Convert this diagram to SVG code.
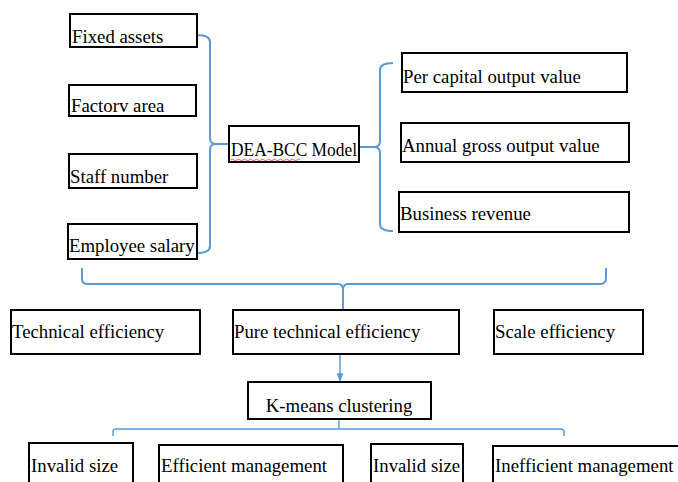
<svg xmlns="http://www.w3.org/2000/svg" width="678" height="482" viewBox="0 0 678 482">
<defs>
<style>
.box{fill:#fff;stroke:#000;stroke-width:2}
.t{font-family:'Liberation Serif','Times New Roman',Times,Tinos,'Noto Serif','DejaVu Serif',serif;font-size:18.8px;fill:#000}
.c{fill:none;stroke:#5B9BD5;stroke-width:2;stroke-linejoin:round}
.c2{fill:none;stroke:#5B9BD5;stroke-width:1.5}
</style>
<marker id="arr" viewBox="0 0 8 8" refX="7" refY="4" markerWidth="6" markerHeight="6" orient="auto">
<path d="M0,1 L8,4 L0,7 Z" fill="#5B9BD5"/>
</marker>
</defs>
<rect width="678" height="482" fill="#fff"/>
<g id="connectors">
<path class="c" d="M197,35 Q210,35 210,42 V138 Q210,144 216,144 H229 M216,144 Q210,144 210,150 V246 Q210,253 197,253"/>
<path class="c" d="M393,63 Q380,63 380,70 V141 Q380,147 374,147 H360 M374,147 Q380,147 380,153 V224 Q380,231 393,231"/>
<path class="c" d="M82,268 V279 Q82,284 88,284 H338 Q343,284 343,290 V309 M343,290 Q343,284 348,284 H600 Q606,284 606,278 V268"/>
<path class="c2" d="M340,354 V381" marker-end="url(#arr)"/>
<path class="c2" d="M339,419 V429 M113,436 V432 Q113,429 116,429 H561 Q564,429 564,432 V436"/>
</g>
<g id="fixed-assets"><rect class="box" x="70" y="14" width="127" height="33"/><text class="t" x="72" y="43">Fixed assets</text></g>
<g id="factory-area"><rect class="box" x="69" y="85" width="127" height="31"/><text class="t" x="71" y="112">Factorv area</text></g>
<g id="staff-number"><rect class="box" x="69" y="154" width="128" height="34"/><text class="t" x="70" y="183">Staff number</text></g>
<g id="employee-salary"><rect class="box" x="68" y="224" width="129" height="35"/><text class="t" x="69" y="252">Employee salary</text></g>
<g id="dea-bcc"><rect class="box" x="229" y="126" width="130" height="36"/><text class="t" x="231" y="156" textLength="126" lengthAdjust="spacingAndGlyphs">DEA-BCC Model</text>
<path d="M231,160 q1.5,-1.5 3,0 t3,0 t3,0 t3,0 t3,0 t3,0 t3,0 t3,0 t3,0 t3,0 t3,0 t3,0 t3,0 t3,0 t3,0 t3,0 t3,0 t3,0 t3,0 t3,0 t3,0 t3,0 t3,0" fill="none" stroke="#e03030" stroke-width="0.8"/></g>
<g id="per-capital"><rect class="box" x="402" y="53" width="225" height="39"/><text class="t" x="403" y="83">Per capital output value</text></g>
<g id="annual-gross"><rect class="box" x="401" y="123" width="228" height="39"/><text class="t" x="402" y="152">Annual gross output value</text></g>
<g id="business-revenue"><rect class="box" x="399" y="192" width="230" height="40"/><text class="t" x="400" y="220">Business revenue</text></g>
<g id="technical-efficiency"><rect class="box" x="11" y="310" width="189" height="44"/><text class="t" x="12" y="338">Technical efficiency</text></g>
<g id="pure-technical-efficiency"><rect class="box" x="233" y="310" width="226" height="44"/><text class="t" x="234" y="338">Pure technical efficiency</text></g>
<g id="scale-efficiency"><rect class="box" x="494" y="310" width="149" height="44"/><text class="t" x="495" y="338">Scale efficiency</text></g>
<g id="k-means"><rect class="box" x="248" y="382" width="183" height="37"/><text class="t" x="339" y="412" text-anchor="middle">K-means clustering</text></g>
<g id="invalid-size-1"><rect class="box" x="29" y="443" width="104" height="50"/><text class="t" x="31" y="472">Invalid size</text></g>
<g id="efficient-management"><rect class="box" x="159" y="445" width="184" height="50"/><text class="t" x="161" y="472">Efficient management</text></g>
<g id="invalid-size-2"><rect class="box" x="371" y="444" width="92" height="50"/><text class="t" x="373" y="472">Invalid size</text></g>
<g id="inefficient-management"><rect class="box" x="493" y="446" width="200" height="50"/><text class="t" x="495" y="472">Inefficient management</text></g>
</svg>
